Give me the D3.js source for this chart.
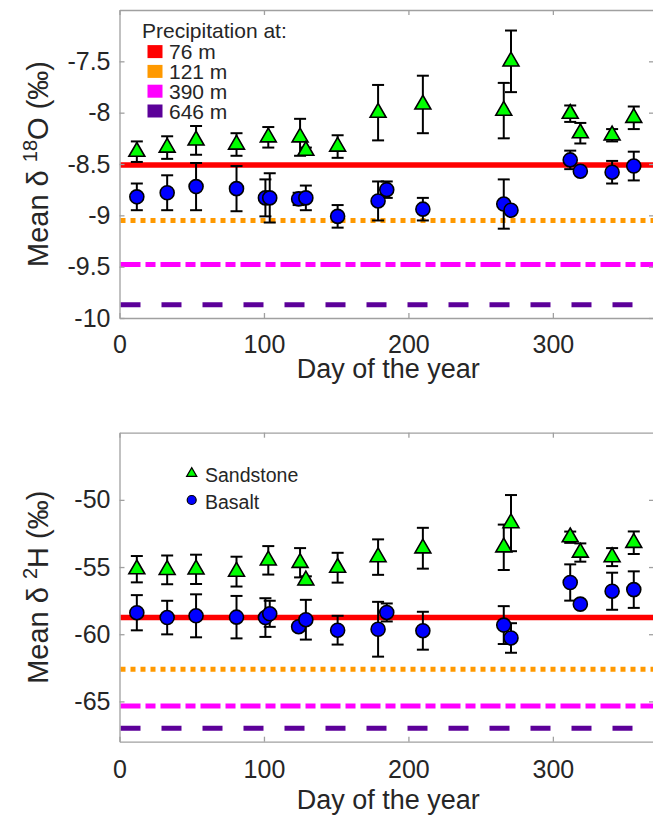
<!DOCTYPE html>
<html><head><meta charset="utf-8">
<script src="https://cdn.jsdelivr.net/npm/d3@7"></script>
<style>
body{margin:0;background:#fff;}
text{font-family:"Liberation Sans",Arial,Helvetica,sans-serif;fill:#262626;}
</style></head>
<body>
<svg id="chart" width="653" height="821"></svg>
<script>
// ---------- data ----------
const xTicks = [0, 100, 200, 300];
const oTicks = [-10, -9.5, -9, -8.5, -8, -7.5];
const hTicks = [-65, -60, -55, -50];

const sandDays = [12, 33, 53, 81, 103, 125, 129, 151, 179, 210, 266, 271, 312, 319, 341, 356];
const sandO    = [-8.38, -8.34, -8.27, -8.31, -8.24, -8.24, -8.37, -8.33, -8.00, -7.92, -7.98, -7.50, -8.01, -8.20, -8.22, -8.05];
const sandOErr = [0.10, 0.11, 0.14, 0.11, 0.10, 0.18, 0.03, 0.11, 0.27, 0.28, 0.27, 0.30, 0.08, 0.10, 0.06, 0.11];
const sandH    = [-55.16, -55.21, -55.17, -55.34, -54.50, -54.68, -55.99, -55.05, -54.26, -53.60, -53.53, -51.73, -52.78, -53.92, -54.26, -53.19];
const sandHErr = [0.98, 1.07, 1.09, 1.11, 1.06, 1.09, 0.30, 1.11, 1.32, 1.52, 1.69, 2.09, 0.42, 0.68, 0.67, 0.84];

const basaltDays = [12, 33, 53, 81, 101, 104, 124, 129, 151, 179, 185, 210, 266, 271, 312, 319, 341, 356];
const basaltO    = [-8.82, -8.78, -8.72, -8.74, -8.83, -8.83, -8.84, -8.83, -9.01, -8.86, -8.75, -8.94, -8.89, -8.95, -8.46, -8.57, -8.58, -8.52];
const basaltOErr = [0.13, 0.17, 0.23, 0.22, 0.18, 0.24, 0.06, 0.12, 0.11, 0.19, 0.08, 0.11, 0.24, 0.03, 0.09, 0.02, 0.11, 0.14];
const basaltH    = [-58.40, -58.76, -58.63, -58.73, -58.76, -58.48, -59.44, -58.92, -59.70, -59.63, -58.38, -59.74, -59.32, -60.28, -56.15, -57.76, -56.80, -56.68];
const basaltHErr = [1.31, 1.25, 1.60, 1.58, 1.44, 0.97, 0.30, 1.48, 1.07, 2.04, 0.67, 1.41, 1.41, 1.10, 1.35, 0.20, 1.38, 1.36];

const precipLabels = ["76 m", "121 m", "390 m", "646 m"];
const precipO = [-8.51, -9.05, -9.48, -9.87];
const precipH = [-58.75, -62.6, -65.35, -67.0];
const precipColors = ["#ff0000", "#ff9900", "#ff00ff", "#5c0099"];
const precipDash = [null, "5,5", "20,5,10,5", "20,21"];

// ---------- layout ----------
const svg = d3.select("#chart");
const x = d3.scaleLinear().domain([0, 370]).range([119.5, 654]);
const panels = [
  {y: d3.scaleLinear().domain([-10, -7]).range([318, 10]), ticks: oTicks, sand: sandO, sandErr: sandOErr, bas: basaltO, basErr: basaltOErr, precip: precipO, iso: "18", el: "O", pad: 17, lab: 60},
  {y: d3.scaleLinear().domain([-68, -45]).range([741.7, 432.7]), ticks: hTicks, sand: sandH, sandErr: sandHErr, bas: basaltH, basErr: basaltHErr, precip: precipH, iso: "2", el: "H", pad: 19, lab: 67}
];
const fmt = v => String(v);
const axisColor = "#a0a0a0";

panels.forEach((p, pi) => {
  const g = svg.append("g");
  const [yb, yt] = p.y.range();
  const [xl, xr] = x.range();

  // precipitation lines
  p.precip.forEach((v, i) => {
    g.append("line").attr("x1", xl + 1).attr("x2", 700).attr("y1", p.y(v)).attr("y2", p.y(v))
      .attr("stroke", precipColors[i]).attr("stroke-width", i === 0 ? 5.5 : 5)
      .attr("stroke-dasharray", precipDash[i]);
  });

  // axes
  const ax = g.append("g").attr("transform", `translate(0,${yb})`)
    .call(d3.axisBottom(x).tickValues(xTicks).tickFormat(fmt).tickSizeInner(-5).tickSizeOuter(0).tickPadding(p.pad));
  const axT = g.append("g").attr("transform", `translate(0,${yt})`)
    .call(d3.axisTop(x).tickValues(xTicks).tickFormat("").tickSizeInner(-5).tickSizeOuter(0));
  const ay = g.append("g").attr("transform", `translate(${xl},0)`)
    .call(d3.axisLeft(p.y).tickValues(p.ticks).tickFormat(fmt).tickSizeInner(-5).tickSizeOuter(0).tickPadding(9));
  const ayR = g.append("g").attr("transform", `translate(${xr},0)`)
    .call(d3.axisRight(p.y).tickValues(p.ticks).tickFormat("").tickSizeInner(-5).tickSizeOuter(0));
  [ax, axT, ay, ayR].forEach(a => {
    a.selectAll("path.domain").attr("stroke", axisColor).attr("stroke-width", 1.3);
    a.selectAll(".tick line").attr("stroke", axisColor).attr("stroke-width", 1.3);
    a.selectAll("text").attr("font-size", 25).attr("font-family", "Liberation Sans, Arial, sans-serif").attr("fill", "#262626");
  });

  // x label
  g.append("text").attr("x", (xl + 653) / 2 + 2).attr("y", yb + p.lab).attr("text-anchor", "middle")
    .attr("font-size", 27).text("Day of the year");
  // y label
  const yl = g.append("text").attr("transform", `translate(48,${(yb + yt) / 2}) rotate(-90)`)
    .attr("text-anchor", "middle").attr("font-size", 29);
  yl.append("tspan").text("Mean \u03B4 ");
  yl.append("tspan").attr("font-size", 20).attr("dy", -11).text(p.iso);
  yl.append("tspan").attr("dy", 11).text(p.el + " (\u2030)");

  // error bars
  const drawErr = (days, vals, errs) => {
    days.forEach((d, i) => {
      const cx = x(d), y1 = p.y(vals[i] - errs[i]), y2 = p.y(vals[i] + errs[i]);
      g.append("line").attr("x1", cx).attr("x2", cx).attr("y1", y1).attr("y2", y2).attr("stroke", "#000").attr("stroke-width", 2);
      [y1, y2].forEach(yy => g.append("line").attr("x1", cx - 6).attr("x2", cx + 6).attr("y1", yy).attr("y2", yy).attr("stroke", "#000").attr("stroke-width", 2));
    });
  };
  drawErr(sandDays, p.sand, p.sandErr);
  drawErr(basaltDays, p.bas, p.basErr);

  const tri = d3.symbol().type(d3.symbolTriangle).size(110);
  sandDays.forEach((d, i) => {
    g.append("path").attr("d", tri()).attr("transform", `translate(${x(d)},${p.y(p.sand[i])})`)
      .attr("fill", "#00ff00").attr("stroke", "#000").attr("stroke-width", 1.6);
  });
  basaltDays.forEach((d, i) => {
    g.append("circle").attr("cx", x(d)).attr("cy", p.y(p.bas[i])).attr("r", 7)
      .attr("fill", "#0000ff").attr("stroke", "#000").attr("stroke-width", 1.6);
  });

  if (pi === 0) {
    const lg = g.append("g");
    lg.append("text").attr("x", 142).attr("y", 38).attr("font-size", 21).text("Precipitation at:");
    precipLabels.forEach((l, i) => {
      const cy = 51.6 + i * 19.8;
      lg.append("rect").attr("x", 147.5).attr("y", cy - 6.5).attr("width", 15).attr("height", 13).attr("fill", precipColors[i]);
      lg.append("text").attr("x", 169).attr("y", cy + 7.5).attr("font-size", 21).text(l);
    });
  } else {
    const lg = g.append("g");
    lg.append("path").attr("d", d3.symbol().type(d3.symbolTriangle).size(45)()).attr("transform", "translate(191.7,473.5)")
      .attr("fill", "#00ff00").attr("stroke", "#000").attr("stroke-width", 1.2);
    lg.append("circle").attr("cx", 191.7).attr("cy", 500).attr("r", 4.5).attr("fill", "#0000ff").attr("stroke", "#000").attr("stroke-width", 1.2);
    lg.append("text").attr("x", 205).attr("y", 482).attr("font-size", 19.5).text("Sandstone");
    lg.append("text").attr("x", 205).attr("y", 508.5).attr("font-size", 19.5).text("Basalt");
  }
});
</script>
</body></html>
